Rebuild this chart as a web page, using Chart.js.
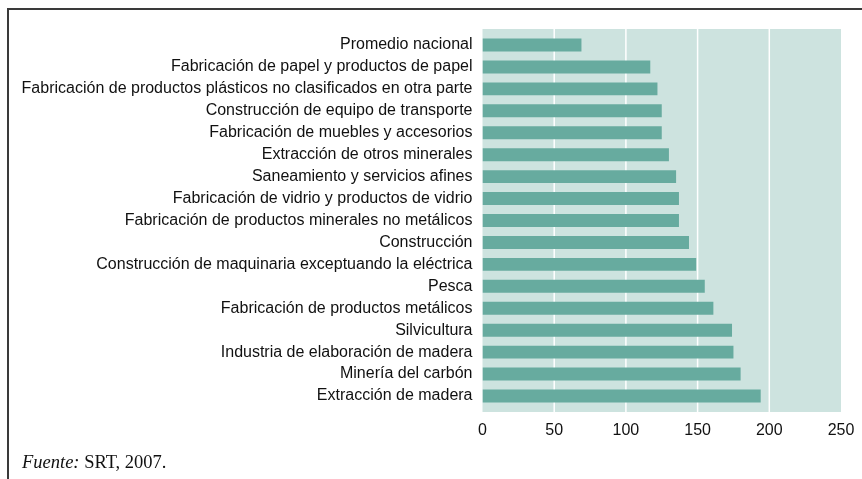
<!DOCTYPE html>
<html>
<head>
<meta charset="utf-8">
<script src="https://cdn.jsdelivr.net/npm/chart.js@4.4.1/dist/chart.umd.min.js"></script>
<style>
  html, body { margin: 0; padding: 0; background: #fff; }
  #wrap { position: relative; width: 862px; height: 479px; overflow: hidden; }
  #frame { position: absolute; left: 7px; top: 8px; width: 900px; height: 500px;
           border-top: 2px solid #3a3a3a; border-left: 2px solid #3a3a3a; }
  #fuente { position: absolute; left: 22px; top: 452px; font-family: "Liberation Serif", "Times New Roman", serif;
            font-size: 18.5px; line-height: 20px; color: #111; }
  canvas { position: absolute; left: 0; top: 0; }
</style>
</head>
<body>
<div id="wrap">
  <div id="frame"></div>
  <canvas id="myChart" width="862" height="479"></canvas>
  <div id="fuente"><i>Fuente:</i> SRT, 2007.</div>
</div>
<script>
let sectores = [
  "Promedio nacional",
  "Fabricación de papel y productos de papel",
  "Fabricación de productos plásticos no clasificados en otra parte",
  "Construcción de equipo de transporte",
  "Fabricación de muebles y accesorios",
  "Extracción de otros minerales",
  "Saneamiento y servicios afines",
  "Fabricación de vidrio y productos de vidrio",
  "Fabricación de productos minerales no metálicos",
  "Construcción",
  "Construcción de maquinaria exceptuando la eléctrica",
  "Pesca",
  "Fabricación de productos metálicos",
  "Silvicultura",
  "Industria de elaboración de madera",
  "Minería del carbón",
  "Extracción de madera"
]

let valores = [69, 117, 122, 125, 125, 130, 135, 137, 137, 144, 149, 155, 161, 174, 175, 180, 194]

let ejeX = [0, 50, 100, 150, 200, 250]

// fondo del area de grafico, un poco mas alto que las barras, con lineas blancas
const fondo = {
  id: 'fondo',
  beforeDatasetsDraw(chart) {
    const a = chart.chartArea
    const c = chart.ctx
    const x = chart.scales.x
    const extra = 5
    c.save()
    c.fillStyle = '#cde3df'
    c.fillRect(a.left, a.top - extra, a.right - a.left, a.bottom - a.top + extra * 2)
    c.strokeStyle = '#ffffff'
    c.lineWidth = 1.5
    for (let i = 1; i < ejeX.length - 1; i++) {
      let px = x.getPixelForValue(ejeX[i])
      c.beginPath()
      c.moveTo(px, a.top - extra)
      c.lineTo(px, a.bottom + extra)
      c.stroke()
    }
    c.restore()
  }
}

const ctx = document.getElementById('myChart')

let myChart = new Chart(ctx, {
  type: "bar",
  data: {
    labels: sectores,
    datasets: [{
      data: valores,
      backgroundColor: '#67ab9f',
      borderWidth: 0,
      barPercentage: 0.59,
      categoryPercentage: 1
    }]
  },
  plugins: [fondo],
  options: {
    indexAxis: 'y',
    responsive: false,
    animation: false,
    layout: { padding: { top: 34, right: 21, left: 0, bottom: 0 } },
    plugins: {
      legend: { display: false },
      tooltip: { enabled: false }
    },
    scales: {
      x: {
        min: ejeX[0],
        max: ejeX[ejeX.length - 1],
        afterBuildTicks(scale) {
          scale.ticks = ejeX.map(v => ({ value: v }))
        },
        afterFit(scale) {
          scale.height = 72
          scale.paddingLeft = 0
          scale.paddingRight = 0
        },
        border: { display: false },
        grid: { display: false, drawTicks: false },
        ticks: {
          padding: 14,
          color: '#111',
          font: { family: 'Liberation Sans, Arial, sans-serif', size: 16 }
        }
      },
      y: {
        afterFit(scale) {
          scale.width = 482.5
          scale.paddingTop = 0
          scale.paddingBottom = 0
        },
        border: { display: false },
        grid: { display: false, drawTicks: false },
        ticks: {
          padding: 10,
          color: '#111',
          autoSkip: false,
          font: { family: 'Liberation Sans, Arial, sans-serif', size: 16 }
        }
      }
    }
  }
})
</script>
</body>
</html>
